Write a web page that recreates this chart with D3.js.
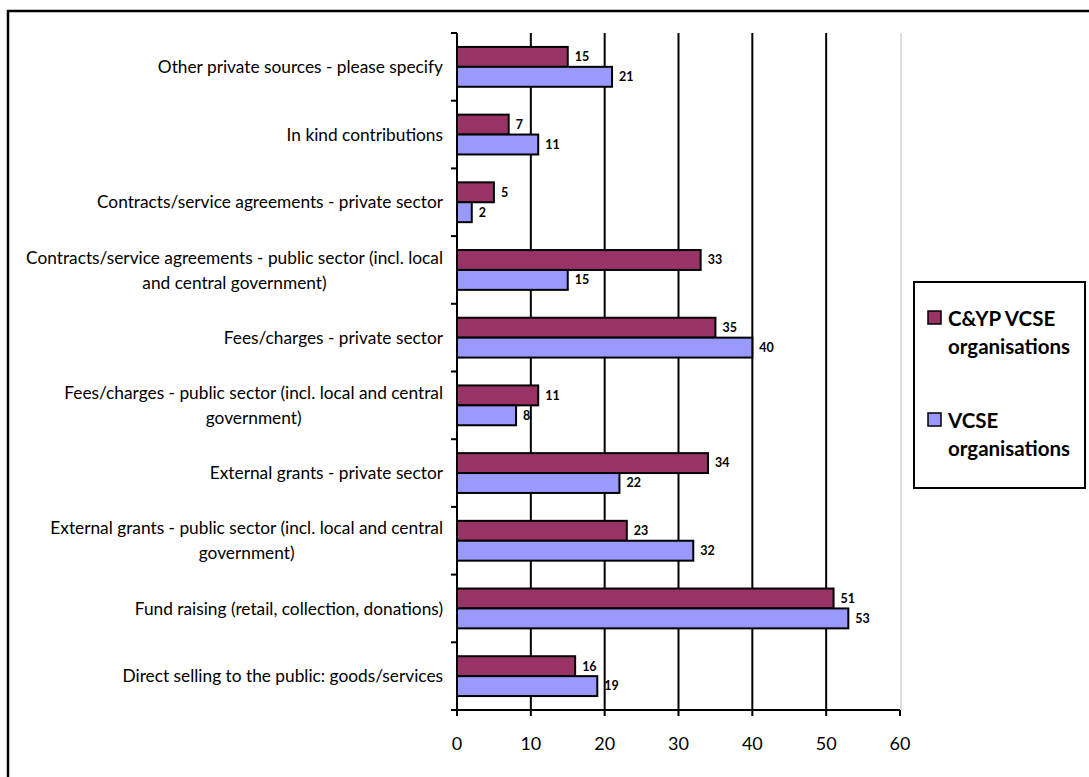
<!DOCTYPE html>
<html>
<head>
<meta charset="utf-8">
<script src="https://cdn.jsdelivr.net/npm/d3@7/dist/d3.min.js"></script>
<style>
  html, body { margin: 0; padding: 0; background: #fff; }
  svg { display: block; }
  text { font-family: Lato, "Open Sans", "Liberation Sans", sans-serif; fill: #000; }
</style>
</head>
<body>
<svg id="chart" width="1089" height="777"></svg>
<script>
// Funding sources, listed top to bottom
const categories = [
  "Other private sources - please specify",
  "In kind contributions",
  "Contracts/service agreements - private sector",
  "Contracts/service agreements - public sector (incl. local and central government)",
  "Fees/charges - private sector",
  "Fees/charges - public sector (incl. local and central government)",
  "External grants - private sector",
  "External grants - public sector (incl. local and central government)",
  "Fund raising (retail, collection, donations)",
  "Direct selling to the public: goods/services"
];
const seriesNames = ["C&YP VCSE organisations", "VCSE organisations"];
const cypValues  = [15, 7, 5, 33, 35, 11, 34, 23, 51, 16];
const vcseValues = [21, 11, 2, 15, 40, 8, 22, 32, 53, 19];
const xTicks = [0, 10, 20, 30, 40, 50, 60];
const colors = ["#993366", "#9999FF"];

const svg = d3.select("#chart");

// Outer chart frame
svg.append("rect")
  .attr("x", 8).attr("y", 11)
  .attr("width", 1100).attr("height", 800)
  .attr("fill", "#fff").attr("stroke", "#000").attr("stroke-width", 2.5);

const plot = { left: 457, right: 900, top: 33, bottom: 710 };

const x = d3.scaleLinear().domain([0, 60]).range([plot.left, plot.right]);
const y = d3.scaleBand().domain(categories).range([plot.top, plot.bottom]).padding(0);
const ySub = d3.scaleBand().domain(seriesNames).range([0, y.bandwidth()])
  .paddingInner(0).paddingOuter(0.7);

const rows = categories.map((c, i) => ({ cat: c, vals: [cypValues[i], vcseValues[i]] }));

// Plot area right border
svg.append("line")
  .attr("x1", x(60) + 1).attr("x2", x(60) + 1)
  .attr("y1", plot.top).attr("y2", plot.bottom)
  .attr("stroke", "#c8c8c8").attr("stroke-width", 1.2);

// Vertical gridlines
svg.append("g")
  .selectAll("line")
  .data(xTicks.filter(t => t > 0 && t < 60))
  .join("line")
  .attr("x1", d => x(d)).attr("x2", d => x(d))
  .attr("y1", plot.top).attr("y2", plot.bottom)
  .attr("stroke", "#000").attr("stroke-width", 2);

// Bars
const groups = svg.append("g").selectAll("g")
  .data(rows)
  .join("g")
  .attr("transform", d => `translate(0,${y(d.cat)})`);

groups.selectAll("rect")
  .data(d => d.vals.map((v, j) => ({ v, s: seriesNames[j], j })))
  .join("rect")
  .attr("x", x(0))
  .attr("y", d => ySub(d.s))
  .attr("width", d => x(d.v) - x(0))
  .attr("height", ySub.bandwidth())
  .attr("fill", d => colors[d.j])
  .attr("stroke", "#000").attr("stroke-width", 2);

// Value labels
groups.selectAll("text.val")
  .data(d => d.vals.map((v, j) => ({ v, s: seriesNames[j], j })))
  .join("text")
  .attr("class", "val")
  .attr("x", d => x(d.v) + 7)
  .attr("y", d => ySub(d.s) + ySub.bandwidth() / 2)
  .attr("dy", "0.35em")
  .attr("font-size", 12.5)
  .attr("font-weight", "bold")
  .text(d => d.v);

// Category axis
const yAxis = svg.append("g").attr("transform", `translate(${plot.left},0)`);
yAxis.append("line")
  .attr("x1", 0).attr("x2", 0)
  .attr("y1", plot.top).attr("y2", plot.bottom)
  .attr("stroke", "#000").attr("stroke-width", 2);
const bounds = categories.map(c => y(c)).concat([plot.bottom]);
yAxis.selectAll("line.tick")
  .data(bounds)
  .join("line")
  .attr("class", "tick")
  .attr("x1", -6).attr("x2", 0)
  .attr("y1", d => d).attr("y2", d => d)
  .attr("stroke", "#000").attr("stroke-width", 2);

// Category labels: wrapped, block right-aligned, lines centred in block
const labelRight = 443;
const maxLabelWidth = 425;
const lineH = 25;
const labelSize = 17.3;
const labelG = svg.append("g");
const measurer = labelG.append("text").attr("font-size", labelSize).attr("visibility", "hidden");
function measure(s) { measurer.text(s); return measurer.node().getComputedTextLength(); }
function wrap(s) {
  const words = s.split(" ");
  const lines = [];
  let cur = "";
  for (const w of words) {
    const t = cur ? cur + " " + w : w;
    if (measure(t) > maxLabelWidth && cur) { lines.push(cur); cur = w; }
    else cur = t;
  }
  lines.push(cur);
  return lines;
}
categories.forEach(c => {
  const lines = wrap(c);
  const blockW = d3.max(lines, measure);
  const cx = labelRight - blockW / 2;
  const cy = y(c) + y.bandwidth() / 2;
  const t = labelG.append("text")
    .attr("font-size", labelSize)
    .attr("text-anchor", "middle");
  lines.forEach((ln, k) => {
    t.append("tspan")
      .attr("x", cx)
      .attr("y", cy + (k - (lines.length - 1) / 2) * lineH)
      .attr("dy", "0.35em")
      .text(ln);
  });
});
measurer.remove();

// Value axis
const xAxis = svg.append("g").attr("transform", `translate(0,${plot.bottom})`);
xAxis.append("line")
  .attr("x1", plot.left).attr("x2", plot.right)
  .attr("stroke", "#000").attr("stroke-width", 2);
xAxis.selectAll("line.tick")
  .data(xTicks)
  .join("line")
  .attr("class", "tick")
  .attr("x1", d => x(d)).attr("x2", d => x(d))
  .attr("y1", 0).attr("y2", 6)
  .attr("stroke", "#000").attr("stroke-width", 2);
xAxis.selectAll("text")
  .data(xTicks)
  .join("text")
  .attr("x", d => x(d))
  .attr("y", 34)
  .attr("dy", "0.35em")
  .attr("text-anchor", "middle")
  .attr("font-size", 18)
  .text(d => d);

// Legend
const legend = svg.append("g");
legend.append("rect")
  .attr("x", 914).attr("y", 282)
  .attr("width", 171).attr("height", 206)
  .attr("fill", "#fff").attr("stroke", "#000").attr("stroke-width", 2);
const legendItems = [
  { lines: ["C&YP VCSE", "organisations"], top: 310 },
  { lines: ["VCSE", "organisations"], top: 412 }
];
legendItems.forEach((it, i) => {
  legend.append("rect")
    .attr("x", 928).attr("y", it.top + 1)
    .attr("width", 13).attr("height", 13)
    .attr("fill", colors[i]).attr("stroke", "#000").attr("stroke-width", 1.5);
  const t = legend.append("text")
    .attr("font-size", 20.5).attr("font-weight", "bold");
  it.lines.forEach((ln, k) => {
    t.append("tspan")
      .attr("x", 948)
      .attr("y", it.top + 16 + k * 28)
      .text(ln);
  });
});
</script>
</body>
</html>
